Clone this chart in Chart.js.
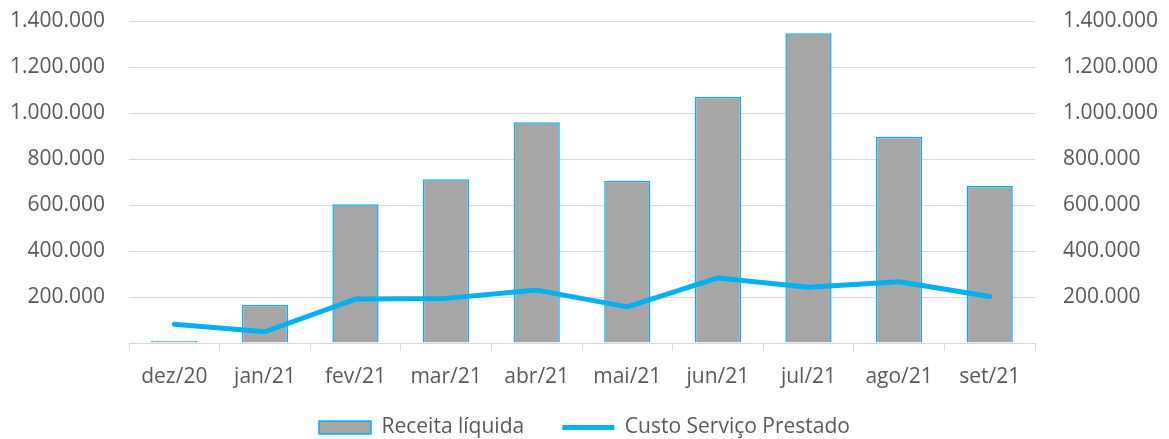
<!DOCTYPE html>
<html>
<head>
<meta charset="utf-8">
<script src="https://cdn.jsdelivr.net/npm/chart.js@4/dist/chart.umd.min.js"></script>
<style>
  html, body { margin: 0; padding: 0; background: #fff; }
  #wrap { width: 1169px; height: 439px; }
</style>
</head>
<body>
<div id="wrap"><canvas id="chart"></canvas></div>
<script>
// ── Data ─────────────────────────────────────────────────────────────────────
const MONTHS = ["dez/20", "jan/21", "fev/21", "mar/21", "abr/21", "mai/21", "jun/21", "jul/21", "ago/21", "set/21"];
const RECEITA = [10000, 166000, 603000, 712000, 960000, 705000, 1071000, 1347000, 897000, 683000];
const CUSTO = [82000, 49000, 191000, 194000, 230000, 157000, 283000, 242000, 266000, 202000];
const Y_MAX = 1400000;
const Y_STEP = 200000;

// ── Style ────────────────────────────────────────────────────────────────────
const TEXT = "#595959";
const GRID = "#D9D9D9";
const BLUE = "#00B0F0";
const GRAY = "#A6A6A6";
const FONT = "'Open Sans', sans-serif";

function fmt(v) {
  if (v === 0) return "";
  return String(v).replace(/\B(?=(\d{3})+(?!\d))/g, ".");
}

// tick padding would otherwise push the plot area down
function fixY(width) {
  return (s) => {
    s.width = width;
    s.paddingTop = 0;
    s.paddingBottom = 0;
  };
}

new Chart(document.getElementById("chart"), {
  data: {
    labels: MONTHS,
    datasets: [
      {
        type: "bar",
        label: "Receita líquida",
        data: RECEITA,
        backgroundColor: GRAY,
        borderColor: BLUE,
        borderWidth: 1.5,
        barPercentage: 0.51,
        categoryPercentage: 1,
        yAxisID: "y",
        order: 2,
      },
      {
        type: "line",
        label: "Custo Serviço Prestado",
        data: CUSTO,
        borderColor: BLUE,
        backgroundColor: BLUE,
        borderWidth: 5,
        borderCapStyle: "round",
        borderJoinStyle: "round",
        pointRadius: 0,
        tension: 0,
        yAxisID: "y1",
        order: 1,
      },
    ],
  },
  options: {
    responsive: true,
    maintainAspectRatio: false,
    animation: false,
    layout: { padding: { top: 21, left: 0, right: 0, bottom: -9 } },
    plugins: {
      tooltip: { enabled: false },
      legend: {
        position: "bottom",
        labels: {
          color: TEXT,
          font: { family: FONT, size: 21 },
          usePointStyle: true,
          pointStyleWidth: 52,
          boxHeight: 13,
          padding: 0,
          sort: (a, b) => a.datasetIndex - b.datasetIndex,
          generateLabels: (chart) => {
            const items = Chart.defaults.plugins.legend.labels.generateLabels(chart);
            items.forEach((it) => {
              if (it.datasetIndex === 0) {
                it.pointStyle = "rect";
                it.text = it.text + "       ";
              } else {
                it.pointStyle = "line";
              }
            });
            return items;
          },
        },
      },
    },
    scales: {
      x: {
        offset: true,
        grid: { offset: true, drawOnChartArea: false, drawTicks: true, tickLength: 8, color: GRID },
        border: { display: true, color: GRID },
        ticks: { color: TEXT, font: { family: FONT, size: 21 }, padding: 13, maxRotation: 0 },
        afterFit: (s) => { s.height = 74; },
      },
      y: {
        position: "left",
        min: 0,
        max: Y_MAX,
        ticks: { stepSize: Y_STEP, color: TEXT, font: { family: FONT, size: 21 }, padding: 24, callback: fmt },
        grid: { color: GRID, lineWidth: 1, drawTicks: false },
        border: { display: false },
        afterFit: fixY(129),
      },
      y1: {
        position: "right",
        min: 0,
        max: Y_MAX,
        ticks: { stepSize: Y_STEP, color: TEXT, font: { family: FONT, size: 21 }, padding: 28, callback: fmt },
        grid: { drawOnChartArea: false, drawTicks: false },
        border: { display: false },
        afterFit: fixY(134),
      },
    },
  },
});
</script>
</body>
</html>
